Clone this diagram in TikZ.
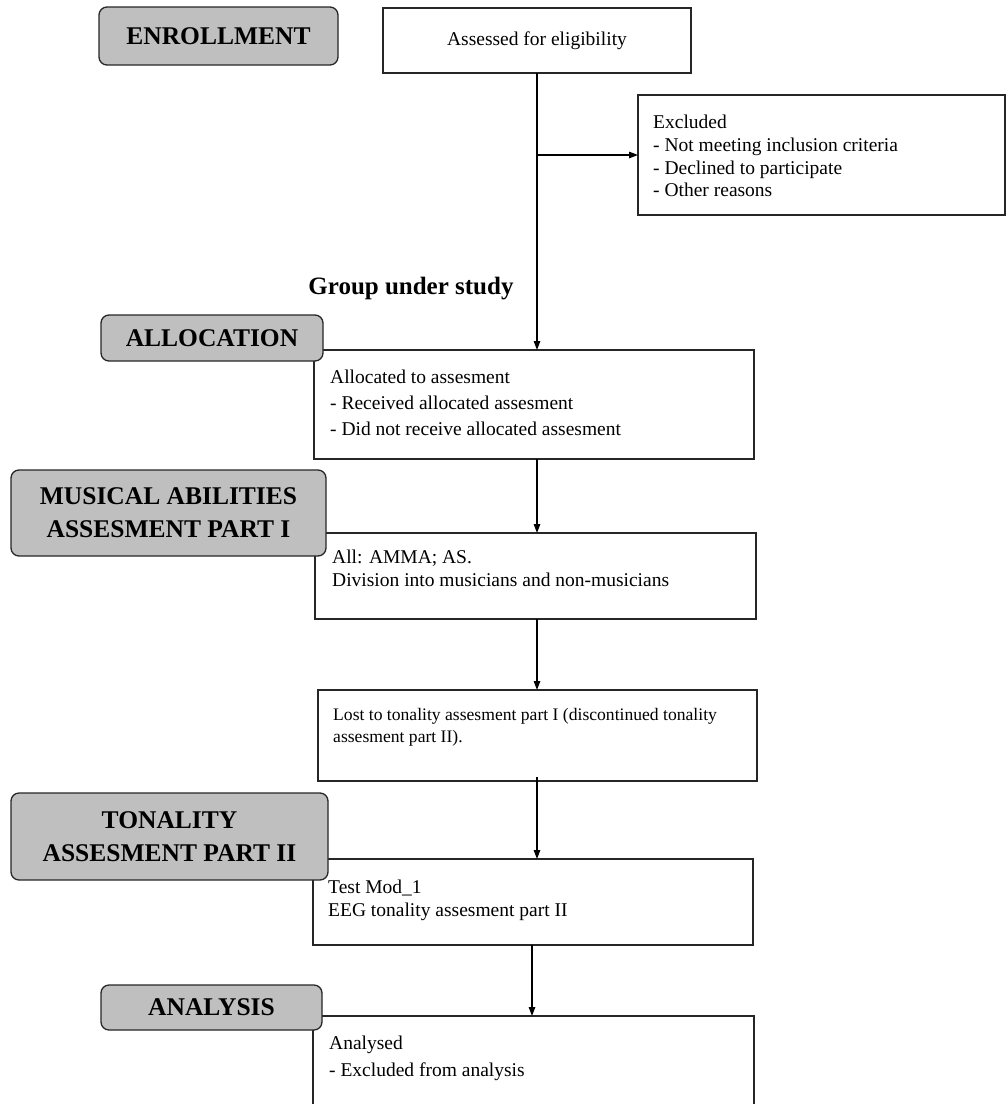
\documentclass[tikz,border=0pt]{standalone}
\usepackage{fontspec}
\setmainfont{Liberation Serif}
\usetikzlibrary{arrows.meta}
\begin{document}
\begin{tikzpicture}[x=1pt,y=-1pt,
  wbox/.style={draw=black!85,line width=1.3pt,fill=white,rectangle,inner sep=0pt,outer sep=0pt,anchor=north west},
  gbox/.style={draw=black!85,line width=1.3pt,fill=black!25,rectangle,rounded corners=8pt,inner sep=0pt,outer sep=0pt,anchor=north west,
    font=\fontsize{25.5}{33}\selectfont\bfseries,align=center},
  body/.style={anchor=west,inner sep=0pt,align=left,font=\fontsize{19.5}{22.7}\selectfont},
  arr/.style={line width=1.3pt,-{Triangle[length=9pt,width=6.5pt]}}]
\clip (0,0) rectangle (1006,1104);
% white boxes
\node[wbox,minimum width=308pt,minimum height=65pt] (assess) at (383,8) {};
\node[font=\fontsize{19.5}{22.7}\selectfont] (assesst) at (assess.center) {Assessed for eligibility};
\node[wbox,minimum width=367pt,minimum height=120pt] (excl) at (638,95) {};
\node[body,anchor=north west] (exclt) at (653,115) {Excluded\\- Not meeting inclusion criteria\\- Declined to participate\\- Other reasons};
\node[font=\fontsize{25}{30}\selectfont\bfseries] (group) at (411,289) {Group under study};
\node[wbox,minimum width=440pt,minimum height=109pt] (alloc) at (314,350) {};
\node[body,anchor=north west,font=\fontsize{19.5}{26}\selectfont] (alloct) at (330,370) {Allocated to assesment\\- Received allocated assesment\\- Did not receive allocated assesment};
\node[wbox,minimum width=441pt,minimum height=86pt] (allb) at (315,533) {};
\node[body,anchor=north west] (allt) at (332,550) {All: AMMA; AS.\\Division into musicians and non-musicians};
\node[wbox,minimum width=439pt,minimum height=91pt] (lost) at (318,690) {};
\node[body,anchor=north west,font=\fontsize{17.6}{22}\selectfont] (lostt) at (333,708) {Lost to tonality assesment part I (discontinued tonality\\assesment part II).};
\node[wbox,minimum width=440pt,minimum height=86pt] (test) at (313,859) {};
\node[body,anchor=north west] (testt) at (328,880) {Test Mod\_1\\EEG tonality assesment part II};
\node[wbox,minimum width=441pt,minimum height=110pt] (anal) at (313,1016) {};
\node[body,anchor=north west,font=\fontsize{19.5}{27}\selectfont] (analt) at (329,1036) {Analysed\\- Excluded from analysis};
% connectors
\coordinate (br) at (537,155);
\draw[line width=1.3pt] (assess.south) -- (assess.south |- br);
\draw[arr] (assess.south |- br) -- (assess.south |- alloc.north);
\draw[arr] (br) -- (excl.west |- br);
\draw[arr] (alloc.south -| assess.south) -- (allb.north -| assess.south);
\draw[arr] (allb.south -| assess.south) -- (lost.north -| assess.south);
\draw[arr] ([yshift=4pt]lost.south -| assess.south) -- (test.north -| assess.south);
\draw[arr] ([xshift=-5pt]test.south -| assess.south) -- ([xshift=-5pt]anal.north -| assess.south);
% gray labels
\node[gbox,minimum width=239pt,minimum height=58pt] (enr) at (99,7) {ENROLLMENT};
\node[gbox,minimum width=222pt,minimum height=46pt] (allo) at (101,315) {ALLOCATION};
\node[gbox,minimum width=315pt,minimum height=86pt] (mus) at (11,470) {MUSICAL ABILITIES\\ASSESMENT PART I};
\node[gbox,minimum width=317pt,minimum height=87pt] (ton) at (11,793) {TONALITY\\ASSESMENT PART II};
\node[gbox,minimum width=221pt,minimum height=45pt] (ana) at (101,985) {ANALYSIS};
\end{tikzpicture}
\end{document}
